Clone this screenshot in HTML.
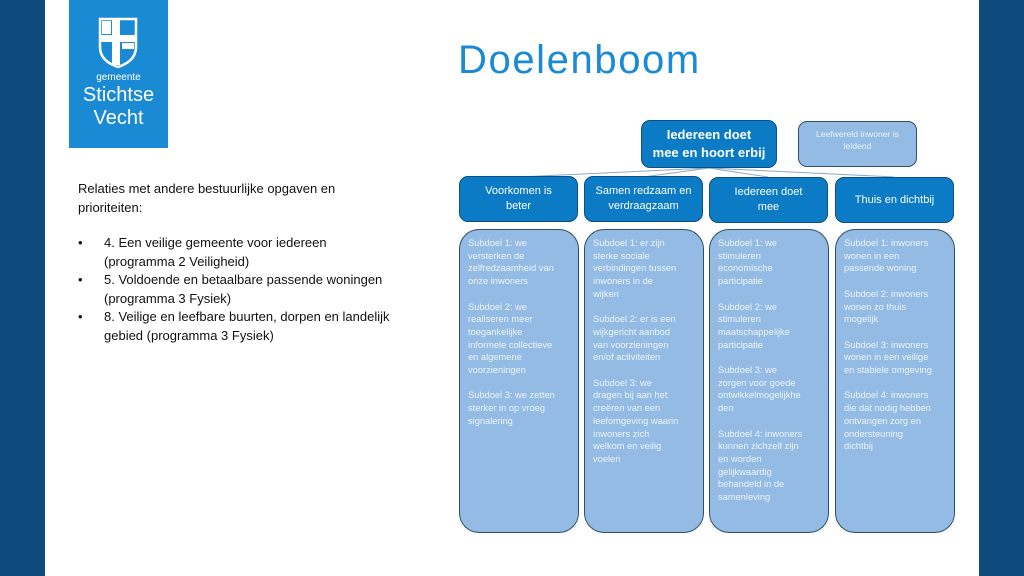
<!DOCTYPE html>
<html><head><meta charset="utf-8"><style>
body{margin:0;width:1024px;height:576px;position:relative;background:#fff;font-family:"Liberation Sans",sans-serif;overflow:hidden}
.bar{position:absolute;top:0;height:576px;background:#0e4a7c}
.b{position:absolute;box-sizing:border-box;border-radius:9px;display:flex;align-items:center;justify-content:center;text-align:center;color:#fff}
.d{background:#0a7bc4;border:1px solid #0c4f86}
.s{position:absolute;box-sizing:border-box;top:229px;height:304px;width:120px;background:#93bbe3;border:1px solid #2f4f6f;border-radius:20px;color:#eef4fb;font-size:9.3px;line-height:12.7px;padding:7px 4px 0 8px;white-space:nowrap}
.s p{margin:0 0 12.7px}
.l{position:absolute;left:78px;font-size:13px;line-height:18.5px;color:#111;white-space:nowrap}
</style></head><body>
<div class="bar" style="left:0;width:45px"></div>
<div class="bar" style="left:979px;width:45px"></div>
<div style="position:absolute;left:69px;top:0;width:99px;height:148px;background:#1a8ad4;color:#fff;text-align:center">
<svg width="40" height="52" style="position:absolute;left:29px;top:17px" viewBox="0 0 40 52"><path d="M2 2H38V30Q38 44 20 50Q2 44 2 30Z" fill="none" stroke="#fff" stroke-width="2.5"/><rect x="14" y="2" width="8" height="46" fill="#fff"/><rect x="2" y="18" width="36" height="7" fill="#fff"/><rect x="24" y="26" width="12" height="6" fill="#fff"/><rect x="4" y="4" width="9" height="13" fill="#fff"/></svg>
<div style="position:absolute;top:72px;width:99px;font-size:10px">gemeente</div>
<div style="position:absolute;top:84px;width:99px;font-size:20px;line-height:23px">Stichtse<br>Vecht</div>
</div>
<div style="position:absolute;left:458px;top:38px;font-size:40px;color:#1a8ad4;letter-spacing:1.6px">Doelenboom</div>
<div class="l" style="top:180px">Relaties met andere bestuurlijke opgaven en<br>prioriteiten:</div>
<div class="l" style="top:234px">
<div style="position:relative;padding-left:26px"><span style="position:absolute;left:0">•</span>4. Een veilige gemeente voor iedereen<br>(programma 2 Veiligheid)</div>
<div style="position:relative;padding-left:26px"><span style="position:absolute;left:0">•</span>5. Voldoende en betaalbare passende woningen<br>(programma 3 Fysiek)</div>
<div style="position:relative;padding-left:26px"><span style="position:absolute;left:0">•</span>8. Veilige en leefbare buurten, dorpen en landelijk<br>gebied (programma 3 Fysiek)</div>
</div>
<svg style="position:absolute;left:0;top:0" width="1024" height="576"><g stroke="#8aa9c4" stroke-width="1"><line x1="709" y1="168" x2="518" y2="177"/><line x1="709" y1="168" x2="643" y2="177"/><line x1="709" y1="168" x2="768" y2="177"/><line x1="709" y1="168" x2="894" y2="177"/></g></svg>
<div class="b d" style="left:641px;top:120px;width:136px;height:48px;font-size:13px;font-weight:bold;line-height:18px">Iedereen doet<br>mee en hoort erbij</div>
<div class="b" style="left:798px;top:121px;width:119px;height:46px;background:#93bbe3;border:1px solid #2f4f6f;font-size:8.6px;line-height:12px;align-items:flex-start;padding-top:6px;color:#eef4fb">Leefwereld inwoner is<br>leidend</div>
<div class="b d" style="left:459px;top:176px;width:119px;height:46px;font-size:11px;line-height:15px">Voorkomen is<br>beter</div>
<div class="b d" style="left:584px;top:176px;width:119px;height:46px;font-size:11px;line-height:15px">Samen redzaam en<br>verdraagzaam</div>
<div class="b d" style="left:709px;top:177px;width:119px;height:46px;font-size:11px;line-height:15px">Iedereen doet<br>mee</div>
<div class="b d" style="left:835px;top:177px;width:119px;height:46px;font-size:11px;line-height:15px">Thuis en dichtbij</div>
<div class="s" style="left:459px"><p>Subdoel 1: we<br>versterken de<br>zelfredzaamheid van<br>onze inwoners</p><p>Subdoel 2: we<br>realiseren meer<br>toegankelijke<br>informele collectieve<br>en algemene<br>voorzieningen</p><p>Subdoel 3: we zetten<br>sterker in op vroeg<br>signalering</p></div>
<div class="s" style="left:584px"><p>Subdoel 1: er zijn<br>sterke sociale<br>verbindingen tussen<br>inwoners in de<br>wijken</p><p>Subdoel 2: er is een<br>wijkgericht aanbod<br>van voorzieningen<br>en/of activiteiten</p><p>Subdoel 3: we<br>dragen bij aan het<br>creëren van een<br>leefomgeving waarin<br>inwoners zich<br>welkom en veilig<br>voelen</p></div>
<div class="s" style="left:709px"><p>Subdoel 1: we<br>stimuleren<br>economische<br>participatie</p><p>Subdoel 2: we<br>stimuleren<br>maatschappelijke<br>participatie</p><p>Subdoel 3: we<br>zorgen voor goede<br>ontwikkelmogelijkhe<br>den</p><p>Subdoel 4: inwoners<br>kunnen zichzelf zijn<br>en worden<br>gelijkwaardig<br>behandeld in de<br>samenleving</p></div>
<div class="s" style="left:835px"><p>Subdoel 1: inwoners<br>wonen in een<br>passende woning</p><p>Subdoel 2: inwoners<br>wonen zo thuis<br>mogelijk</p><p>Subdoel 3: inwoners<br>wonen in een veilige<br>en stabiele omgeving</p><p>Subdoel 4: inwoners<br>die dat nodig hebben<br>ontvangen zorg en<br>ondersteuning<br>dichtbij</p></div>
</body></html>
